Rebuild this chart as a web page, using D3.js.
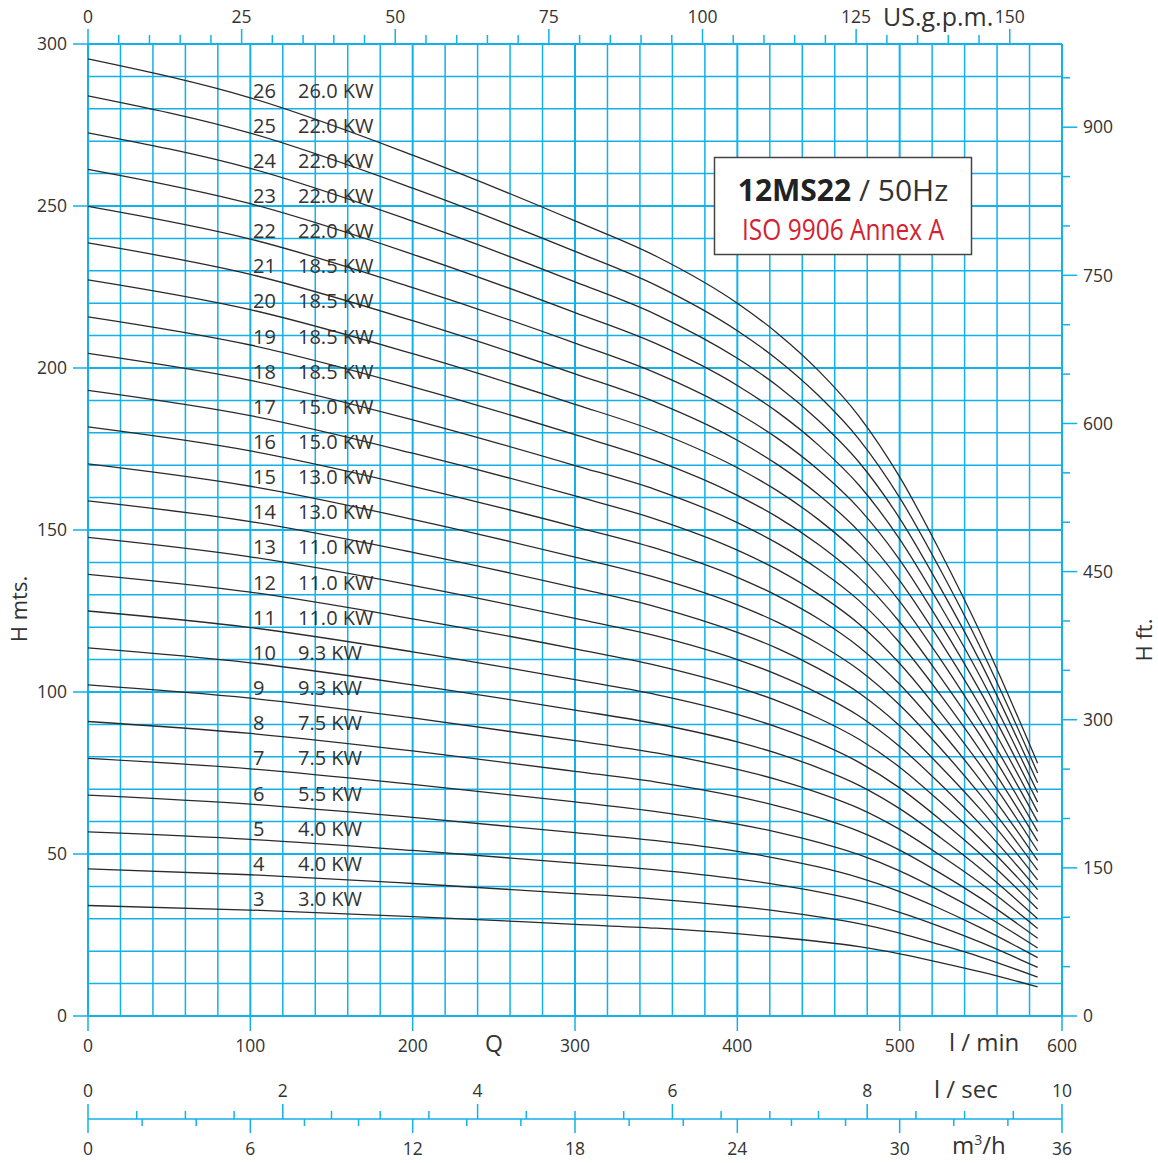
<!DOCTYPE html>
<html><head><meta charset="utf-8">
<script src="https://cdn.jsdelivr.net/npm/d3@7"></script>
<style>
body{margin:0;background:#fff}
text{font-family:'Open Sans',sans-serif;fill:#333}
</style>
</head><body>
<svg id="c" width="1158" height="1163"></svg>
<script>
// ---- data ----
const flowLpm = [0, 100, 200, 300, 350, 400, 425, 450, 475, 500, 525, 550, 585];
const stages = [3,4,5,6,7,8,9,10,11,12,13,14,15,16,17,18,19,20,21,22,23,24,25,26];
const powerKW = ["3.0","4.0","4.0","5.5","7.5","7.5","9.3","9.3","11.0","11.0","11.0","13.0","13.0","15.0","15.0","18.5","18.5","18.5","18.5","22.0","22.0","22.0","22.0","26.0"];
const headM = [
  [34.1, 32.7, 30.7, 28.3, 27.1, 25.4, 24.3, 23.0, 21.4, 19.2, 16.5, 13.6, 9.0],
  [45.4, 43.6, 40.9, 37.8, 36.1, 33.8, 32.4, 30.6, 28.5, 25.6, 22.0, 18.2, 12.0],
  [56.8, 54.5, 51.1, 47.2, 45.1, 42.3, 40.5, 38.3, 35.6, 32.0, 27.6, 22.7, 15.0],
  [68.2, 65.4, 61.3, 56.6, 54.1, 50.8, 48.6, 46.0, 42.7, 38.4, 33.1, 27.2, 18.0],
  [79.5, 76.3, 71.5, 66.1, 63.1, 59.2, 56.7, 53.6, 49.8, 44.8, 38.6, 31.8, 21.0],
  [90.9, 87.2, 81.8, 75.5, 72.2, 67.7, 64.8, 61.3, 57.0, 51.2, 44.1, 36.3, 24.0],
  [102.2, 98.1, 92.0, 85.0, 81.2, 76.1, 72.9, 68.9, 64.1, 57.6, 49.6, 40.9, 27.0],
  [113.6, 109.0, 102.2, 94.4, 90.2, 84.6, 81.0, 76.6, 71.2, 64.0, 55.1, 45.4, 30.0],
  [125.0, 119.9, 112.4, 103.8, 99.2, 93.1, 89.1, 84.3, 78.3, 70.4, 60.6, 49.9, 33.0],
  [136.3, 130.8, 122.6, 113.3, 108.2, 101.5, 97.2, 91.9, 85.4, 76.8, 66.1, 54.5, 36.0],
  [147.7, 141.7, 132.9, 122.7, 117.3, 110.0, 105.3, 99.6, 92.6, 83.2, 71.6, 59.0, 39.0],
  [159.0, 152.6, 143.1, 132.2, 126.3, 118.4, 113.4, 107.2, 99.7, 89.6, 77.1, 63.6, 42.0],
  [170.4, 163.5, 153.3, 141.6, 135.3, 126.9, 121.5, 114.9, 106.8, 96.0, 82.7, 68.1, 45.0],
  [181.8, 174.4, 163.5, 151.0, 144.3, 135.4, 129.6, 122.6, 113.9, 102.4, 88.2, 72.6, 48.0],
  [193.1, 185.3, 173.7, 160.5, 153.3, 143.8, 137.7, 130.2, 121.0, 108.8, 93.7, 77.2, 51.0],
  [204.5, 196.2, 184.0, 169.9, 162.4, 152.3, 145.8, 137.9, 128.2, 115.2, 99.2, 81.7, 54.0],
  [215.8, 207.1, 194.2, 179.4, 171.4, 160.7, 153.9, 145.5, 135.3, 121.6, 104.7, 86.3, 57.0],
  [227.2, 218.0, 204.4, 188.8, 180.4, 169.2, 162.0, 153.2, 142.4, 128.0, 110.2, 90.8, 60.0],
  [238.6, 228.9, 214.6, 198.2, 189.4, 177.7, 170.1, 160.9, 149.5, 134.4, 115.7, 95.3, 63.0],
  [249.9, 239.8, 224.8, 207.7, 198.4, 186.1, 178.2, 168.5, 156.6, 140.8, 121.2, 99.9, 66.0],
  [261.3, 250.7, 235.1, 217.1, 207.5, 194.6, 186.3, 176.2, 163.8, 147.2, 126.7, 104.4, 69.0],
  [272.6, 261.6, 245.3, 226.6, 216.5, 203.0, 194.4, 183.8, 170.9, 153.6, 132.2, 109.0, 72.0],
  [284.0, 272.5, 255.5, 236.0, 225.5, 211.5, 202.5, 191.5, 178.0, 160.0, 137.8, 113.5, 75.0],
  [295.4, 283.4, 265.7, 245.4, 234.5, 220.0, 210.6, 199.2, 185.1, 166.4, 143.3, 118.0, 78.0]
];
const headTicks = [0, 50, 100, 150, 200, 250, 300];
const lpmTicks = [0, 100, 200, 300, 400, 500, 600];
const gpmTicks = [0, 25, 50, 75, 100, 125, 150];
const ftTicks = [0, 150, 300, 450, 600, 750, 900];
const lpsTicks = [0, 2, 4, 6, 8, 10];
const m3hTicks = [0, 6, 12, 18, 24, 30, 36];

// ---- scales ----
const svg = d3.select("#c");
const x = d3.scaleLinear([0, 600], [88, 1062]);
const y = d3.scaleLinear([0, 300], [1016, 44]);
const xGpm = d3.scaleLinear([0, 600 / 3.785411784], [88, 1062]);
const yFt = d3.scaleLinear([0, 300 / 0.3048], [1016, 44]);
const xLps = d3.scaleLinear([0, 10], [88, 1062]);
const xM3h = d3.scaleLinear([0, 36], [88, 1062]);
const labelY = d3.scaleLinear([3, 26], [906, 97.5]);
const BLUE = "#12b1ea";

// ---- grid ----
const g = svg.append("g").attr("stroke", BLUE).attr("fill", "none");
g.selectAll(".vx").data(d3.range(0, 601, 20)).join("line")
  .attr("x1", d => x(d)).attr("x2", d => x(d)).attr("y1", y(0)).attr("y2", y(300))
  .attr("stroke-width", d => d % 100 === 0 ? 2 : 1.5);
g.selectAll(".hy").data(d3.range(0, 301, 10)).join("line")
  .attr("y1", d => y(d)).attr("y2", d => y(d)).attr("x1", x(0)).attr("x2", x(600))
  .attr("stroke-width", d => d % 50 === 0 ? 2 : 1.5);

// ---- axes ticks ----
const t = svg.append("g").attr("stroke", BLUE).attr("stroke-width", 1.5);
t.selectAll(".lt").data(headTicks).join("line")
  .attr("x1", 73).attr("x2", x(0)).attr("y1", d => y(d)).attr("y2", d => y(d));
t.selectAll(".bt").data(lpmTicks).join("line")
  .attr("x1", d => x(d)).attr("x2", d => x(d)).attr("y1", y(0)).attr("y2", 1031);
t.selectAll(".tt").data(d3.range(0, 151, 5)).join("line")
  .attr("x1", d => xGpm(d)).attr("x2", d => xGpm(d)).attr("y1", d => d % 25 === 0 ? 29 : 35).attr("y2", y(300));
t.selectAll(".rt").data(d3.range(0, 951, 50)).join("line")
  .attr("x1", x(600)).attr("x2", d => d % 150 === 0 ? 1077 : 1070).attr("y1", d => yFt(d)).attr("y2", d => yFt(d));
const AY = 1119;
t.append("line").attr("x1", x(0)).attr("x2", x(600)).attr("y1", AY).attr("y2", AY);
t.selectAll(".ls").data(d3.range(0, 10.01, 0.5)).join("line")
  .attr("x1", d => xLps(d)).attr("x2", d => xLps(d))
  .attr("y1", d => d % 2 === 0 ? AY - 15 : AY - 8).attr("y2", AY);
t.selectAll(".mh").data(d3.range(0, 36.01, 2)).join("line")
  .attr("x1", d => xM3h(d)).attr("x2", d => xM3h(d))
  .attr("y1", AY).attr("y2", d => d % 6 === 0 ? AY + 14 : AY + 7);

// ---- tick labels ----
const fs = "17.5px";
svg.selectAll(".ll").data(headTicks).join("text")
  .attr("x", 67).attr("y", d => y(d) + 6.2).attr("text-anchor", "end").attr("font-size", fs).text(d => d);
svg.selectAll(".bl").data(lpmTicks).join("text")
  .attr("x", d => x(d)).attr("y", 1051.5).attr("text-anchor", "middle").attr("font-size", fs).text(d => d);
svg.selectAll(".tl").data(gpmTicks).join("text")
  .attr("x", d => xGpm(d)).attr("y", 22.5).attr("text-anchor", "middle").attr("font-size", fs).text(d => d);
svg.selectAll(".rl").data(ftTicks).join("text")
  .attr("x", 1083).attr("y", d => yFt(d) + 6.2).attr("text-anchor", "start").attr("font-size", fs).text(d => d);
svg.selectAll(".sl").data(lpsTicks).join("text")
  .attr("x", d => xLps(d)).attr("y", 1097).attr("text-anchor", "middle").attr("font-size", fs).text(d => d);
svg.selectAll(".ml").data(m3hTicks).join("text")
  .attr("x", d => xM3h(d)).attr("y", 1155).attr("text-anchor", "middle").attr("font-size", fs).text(d => d);

// ---- axis titles ----
svg.append("text").attr("x", 883).attr("y", 25.5).attr("font-size", "25px").text("US.g.p.m.");
svg.append("text").attr("x", 485).attr("y", 1052).attr("font-size", "23px").text("Q");
svg.append("text").attr("x", 949).attr("y", 1050.5).attr("font-size", "24px").text("l / min");
svg.append("text").attr("x", 934).attr("y", 1097.5).attr("font-size", "24px").text("l / sec");
const m3 = svg.append("text").attr("x", 952).attr("y", 1153.5).attr("font-size", "24px");
m3.append("tspan").text("m");
m3.append("tspan").attr("dy", -9).attr("font-size", "14px").text("3");
m3.append("tspan").attr("dy", 9).text("/h");
svg.append("text").attr("transform", "translate(27,609) rotate(-90)").attr("text-anchor", "middle")
  .attr("font-size", "22px").text("H mts.");
svg.append("text").attr("transform", "translate(1152,640) rotate(-90)").attr("text-anchor", "middle")
  .attr("font-size", "22px").text("H ft.");

// ---- stage labels ----
const lab = svg.append("g").attr("font-size", "20px");
lab.selectAll(".sn").data(stages).join("text")
  .attr("x", 253).attr("y", d => labelY(d)).text(d => d);
lab.selectAll(".pw").data(stages).join("text")
  .attr("x", 298).attr("y", d => labelY(d)).text((d, i) => powerKW[i] + " KW");

// ---- curves ----
const line = d3.line().x((d, i) => x(flowLpm[i])).y(d => y(d)).curve(d3.curveMonotoneX);
svg.append("g").selectAll("path").data(headM).join("path")
  .attr("d", line).attr("fill", "none").attr("stroke", "#2a2a2a").attr("stroke-width", 1.3);

// ---- title box ----
svg.append("rect").attr("x", 714.5).attr("y", 157.5).attr("width", 257).attr("height", 97)
  .attr("fill", "#fff").attr("stroke", "#444").attr("stroke-width", 1.5);
const tt = svg.append("text").attr("x", 843).attr("y", 201).attr("text-anchor", "middle").attr("font-size", "30px");
tt.append("tspan").attr("font-weight", "bold").attr("fill", "#222").text("12MS22");
tt.append("tspan").text(" / 50Hz");
svg.append("text").attr("x", 742).attr("y", 240)
  .attr("textLength", 202).attr("lengthAdjust", "spacingAndGlyphs")
  .style("fill", "#d42232").attr("font-size", "29px").text("ISO 9906 Annex A");
</script>
</body></html>
